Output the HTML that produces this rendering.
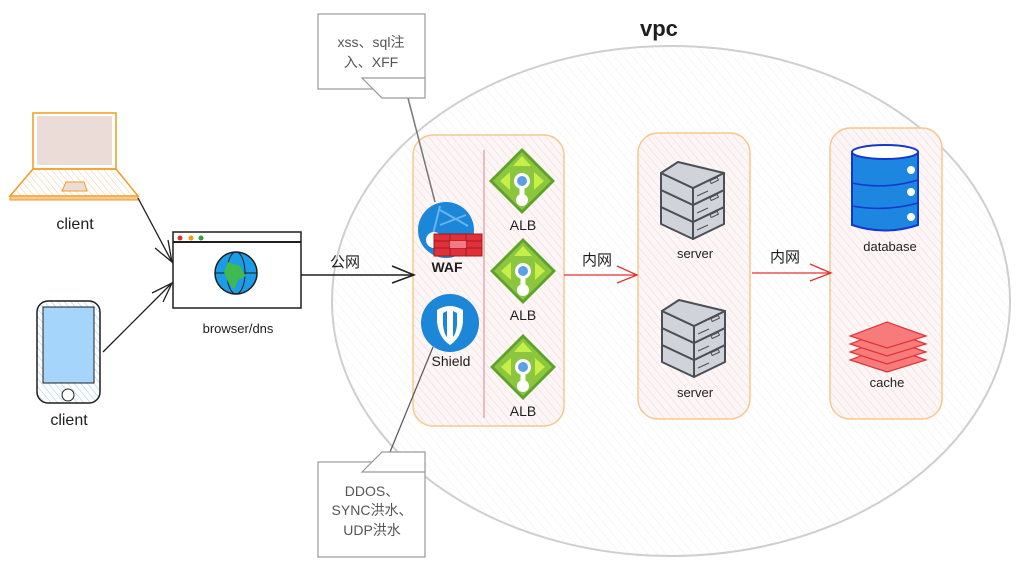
<!DOCTYPE html>
<html><head><meta charset="utf-8"><style>
html,body{margin:0;padding:0;background:#fff;}
svg{display:block;}
text{font-family:"Liberation Sans","Noto Sans CJK SC",sans-serif;fill:#1e1e1e;}
</style></head><body>
<svg width="1023" height="567" viewBox="0 0 1023 567" xmlns="http://www.w3.org/2000/svg">
<defs>
<pattern id="hg" width="7" height="7" patternUnits="userSpaceOnUse" patternTransform="rotate(-40)"><line x1="0" y1="0" x2="0" y2="7" stroke="#efefef" stroke-width="1"/></pattern>
<pattern id="hr" width="6" height="6" patternUnits="userSpaceOnUse" patternTransform="rotate(-40)"><rect width="6" height="6" fill="#fdf6f6"/><line x1="0" y1="0" x2="0" y2="6" stroke="#f8d2d2" stroke-width="1"/></pattern>
<pattern id="ho" width="5" height="5" patternUnits="userSpaceOnUse" patternTransform="rotate(-40)"><line x1="0" y1="0" x2="0" y2="5" stroke="#f5c9a0" stroke-width="1"/></pattern>
<pattern id="hb" width="5" height="5" patternUnits="userSpaceOnUse" patternTransform="rotate(-40)"><rect width="5" height="5" fill="#fff"/><line x1="0" y1="0" x2="0" y2="5" stroke="#a5d0f0" stroke-width="1.2"/></pattern>
</defs>

<ellipse cx="671" cy="301" rx="339" ry="255" fill="url(#hg)" stroke="#cfcfcf" stroke-width="2"/>
<text x="640" y="36" font-size="22" font-weight="bold">vpc</text>

<rect x="413" y="135" width="151" height="291" rx="20" fill="url(#hr)" stroke="#f7c78e" stroke-width="1.5"/>
<line x1="484" y1="150" x2="484" y2="418" stroke="#f5b7b7" stroke-width="2"/>
<rect x="638" y="133" width="112" height="286" rx="20" fill="url(#hr)" stroke="#f7c78e" stroke-width="1.5"/>
<rect x="830" y="128" width="112" height="291" rx="20" fill="url(#hr)" stroke="#f7c78e" stroke-width="1.5"/>

<line x1="408" y1="98" x2="435" y2="202" stroke="#777" stroke-width="1.5"/>
<line x1="433" y1="347" x2="390" y2="452" stroke="#555" stroke-width="1.2"/>
<rect x="318" y="14" width="107" height="75" fill="#fff" stroke="#999" stroke-width="1.2"/>
<polygon points="362,78 425,78 425,98 382,98" fill="#fff" stroke="#999" stroke-width="1.2"/>
<text x="371" y="47" font-size="14" text-anchor="middle" style="fill:#555">xss、sql注</text>
<text x="371" y="67" font-size="14" text-anchor="middle" style="fill:#555">入、XFF</text>
<rect x="318" y="462" width="107" height="95" fill="#fff" stroke="#999" stroke-width="1.2"/>
<polygon points="382,452 425,452 425,472 362,472" fill="#fff" stroke="#999" stroke-width="1.2"/>
<text x="372" y="496" font-size="14" text-anchor="middle" style="fill:#555">DDOS、</text>
<text x="372" y="515" font-size="14" text-anchor="middle" style="fill:#555">SYNC洪水、</text>
<text x="372" y="535" font-size="14" text-anchor="middle" style="fill:#555">UDP洪水</text>

<rect x="33" y="113" width="83" height="56" fill="#fff" stroke="#f29a1f" stroke-width="1.5"/>
<rect x="37" y="116" width="75" height="49" fill="#ebdcd8"/>
<polygon points="33,169 116,169 138,196 10,196" fill="url(#ho)" stroke="#f29a1f" stroke-width="1.5"/>
<rect x="10" y="196" width="128" height="4" fill="#f8c890" stroke="#f29a1f" stroke-width="1"/>
<polygon points="66,182 84,182 87,191 62,191" fill="#ebdcd8" stroke="#f29a1f"/>
<text x="75" y="229" font-size="16" text-anchor="middle">client</text>

<rect x="37" y="301" width="63" height="102" rx="11" fill="url(#hb)" stroke="#1e1e1e" stroke-width="1.5"/>
<rect x="43" y="307" width="51" height="76" fill="#a5d5fb" stroke="#1e1e1e" stroke-width="1"/>
<circle cx="68" cy="395" r="6" fill="#fff" stroke="#1e1e1e"/>
<text x="69" y="425" font-size="16" text-anchor="middle">client</text>

<rect x="173" y="232" width="128" height="76" fill="#fff" stroke="#1e1e1e" stroke-width="1.5"/>
<line x1="173" y1="242" x2="301" y2="242" stroke="#1e1e1e" stroke-width="2"/>
<circle cx="180" cy="238" r="2.5" fill="#e03131"/><circle cx="191" cy="238" r="2.5" fill="#f0a000"/><circle cx="201" cy="238" r="2.5" fill="#2f9e44"/>
<circle cx="236" cy="273" r="21" fill="#1c9be6" stroke="#1e1e1e" stroke-width="1.5"/>
<ellipse cx="236" cy="273" rx="9" ry="21" fill="none" stroke="#1e1e1e"/>
<line x1="215" y1="273" x2="257" y2="273" stroke="#1e1e1e"/>
<path d="M228,262 L240,266 L246,276 L238,280 L234,290 L228,282 L224,272 Z" fill="#3fb950"/>
<text x="238" y="333" font-size="13" text-anchor="middle">browser/dns</text>

<path d="M138,198 L172,262" stroke="#1e1e1e" stroke-width="1.3" fill="none"/>
<path d="M155,248 L172,262 L168,240" stroke="#1e1e1e" stroke-width="1.3" fill="none"/>
<path d="M103,352 L172,283" stroke="#1e1e1e" stroke-width="1.3" fill="none"/>
<path d="M152,293 L172,283 L163,302" stroke="#1e1e1e" stroke-width="1.3" fill="none"/>

<line x1="301" y1="275" x2="414" y2="275" stroke="#1e1e1e" stroke-width="1.5"/>
<path d="M392,266 L414,275 L392,283" stroke="#1e1e1e" stroke-width="1.5" fill="none"/>
<text x="345" y="267" font-size="15" text-anchor="middle">公网</text>

<line x1="564" y1="275" x2="637" y2="275" stroke="#e03131" stroke-width="1.3"/>
<path d="M617,266 L637,275 L617,283" stroke="#e03131" stroke-width="1.3" fill="none"/>
<text x="597" y="265" font-size="15" text-anchor="middle">内网</text>
<line x1="752" y1="273" x2="831" y2="273" stroke="#e03131" stroke-width="1.3"/>
<path d="M810,264 L831,273 L810,281" stroke="#e03131" stroke-width="1.3" fill="none"/>
<text x="785" y="262" font-size="15" text-anchor="middle">内网</text>

<circle cx="446" cy="230" r="28" fill="#1c86d8"/>
<path d="M440,206 L432,238 M440,210 L468,226 M440,225 L466,215" stroke="#67b4f0" stroke-width="2" fill="none"/>
<circle cx="434" cy="240" r="8" fill="#fff"/>
<rect x="434" y="234" width="48" height="22" fill="#e2303a" stroke="#9a1b22"/>
<path d="M434,241 H482 M434,248 H482 M450,234 V256 M466,234 V256" stroke="#9a1b22"/>
<rect x="450" y="241" width="16" height="7" fill="#f07a85"/>
<text x="447" y="272" font-size="14" text-anchor="middle" font-weight="bold">WAF</text>

<circle cx="450" cy="323" r="29" fill="#1c86d8"/>
<path d="M437,310 Q450,302 463,310 L463,322 Q461,338 450,345 Q439,338 437,322 Z" fill="#fff"/>
<path d="M443,313 L443,325 Q444,334 447,337 L447,311 Z M453,311 L453,337 Q456,334 457,325 L457,313 Z" fill="#1c86d8"/>
<text x="451" y="366" font-size="14" text-anchor="middle">Shield</text>

<g id="alb">
<polygon points="522,148 555,181 522,214 489,181" fill="#5ea22b"/>
<polygon points="522,152 551,181 522,210 493,181" fill="#8cc63f"/>
<polygon points="522,156 531,166 513,166" fill="#c6ef4a"/>
<polygon points="500,181 510,172 510,190" fill="#c6ef4a"/><polygon points="544,181 534,172 534,190" fill="#c6ef4a"/>
<line x1="522" y1="181" x2="522" y2="198" stroke="#fff" stroke-width="5"/>
<circle cx="522" cy="181" r="8" fill="#fff"/><circle cx="522" cy="181" r="5" fill="#5ea0e8"/>
<circle cx="522" cy="200" r="6" fill="#fff"/>
</g>
<text x="523" y="230" font-size="14" text-anchor="middle">ALB</text>
<use href="#alb" transform="translate(1,90)"/>
<text x="523" y="320" font-size="14" text-anchor="middle">ALB</text>
<use href="#alb" transform="translate(1,186)"/>
<text x="523" y="416" font-size="14" text-anchor="middle">ALB</text>

<g id="srv" stroke="#4b4f56" stroke-width="2" stroke-linejoin="round" fill="#d0d3d9">
<g id="lay3"><polygon points="661,207 693,222 693,239 661,224"/><polygon points="693,222 724,207 724,224 693,239"/><rect x="710" y="213" width="8" height="3" transform="rotate(-25 714 214)" fill="none" stroke-width="1"/><line x1="697" y1="230" x2="708" y2="225" stroke-width="1"/></g>
<g><polygon points="661,190 693,205 693,222 661,207"/><polygon points="693,205 724,190 724,207 693,222"/><rect x="710" y="196" width="8" height="3" transform="rotate(-25 714 197)" fill="none" stroke-width="1"/><line x1="697" y1="213" x2="708" y2="208" stroke-width="1"/></g>
<g><polygon points="661,173 693,188 693,205 661,190"/><polygon points="693,188 724,173 724,190 693,205"/><rect x="710" y="179" width="8" height="3" transform="rotate(-25 714 180)" fill="none" stroke-width="1"/><line x1="697" y1="196" x2="708" y2="191" stroke-width="1"/></g>
<polygon points="661,173 678,162 724,173 693,188"/>
</g>
<text x="695" y="258" font-size="13" text-anchor="middle">server</text>
<use href="#srv" transform="translate(1,138)"/>
<text x="695" y="397" font-size="13" text-anchor="middle">server</text>

<path d="M852,152 L852,225 Q885,236 918,225 L918,152 Z" fill="#1c86e0" stroke="#1537d0" stroke-width="2"/>
<ellipse cx="885" cy="152" rx="33" ry="7" fill="#fff" stroke="#1537d0" stroke-width="2"/>
<path d="M852,183 Q885,190 918,180 M852,206 Q885,212 918,203" fill="none" stroke="#1537d0" stroke-width="1.5"/>
<circle cx="911" cy="170" r="4" fill="#fff"/><circle cx="911" cy="192" r="4" fill="#fff"/><circle cx="911" cy="217" r="4" fill="#fff"/>
<text x="890" y="251" font-size="13" text-anchor="middle">database</text>

<g fill="#f87b7b" stroke="#e03131" stroke-width="1.2">
<polygon points="850,360 887,346 926,360 887,372"/>
<polygon points="850,352 887,338 926,352 887,364"/>
<polygon points="850,344 887,330 926,344 887,356"/>
<polygon points="850,336 887,322 926,336 887,348"/>
</g>
<text x="887" y="387" font-size="13" text-anchor="middle">cache</text>
</svg>
</body></html>
